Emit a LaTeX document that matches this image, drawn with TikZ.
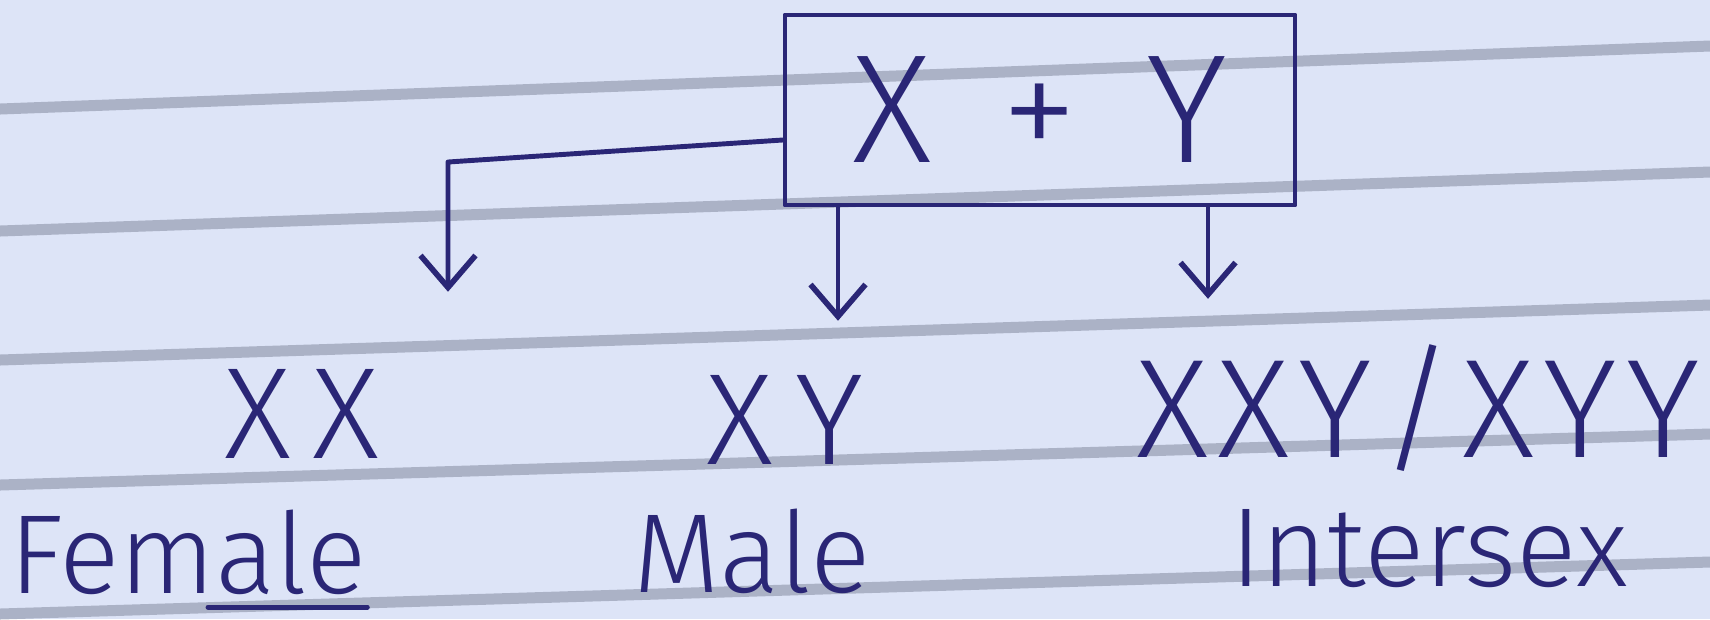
\documentclass[tikz,border=0pt]{standalone}
\usepackage{fontspec}
\usepackage{tikz}
\usetikzlibrary{arrows.meta}
\usepackage{xcolor}
\newfontfamily\handfont{Fira Sans Light}
\definecolor{paper}{RGB}{221,228,247}
\definecolor{inkblue}{RGB}{42,38,118}
\definecolor{ruleline}{RGB}{150,158,178}
\tikzset{
    pen/.style={draw=inkblue, line width=1.4pt, line cap=round, line join=round},
    inktext/.style={text=inkblue, font=\handfont\fontsize{37}{40}\selectfont, inner sep=0pt},
    wordtext/.style={text=inkblue, font=\handfont\fontsize{32}{38}\selectfont, inner sep=0pt},
    crossbox/.style={pen, minimum width=51mm, minimum height=19mm, text=inkblue,
        font=\handfont\fontsize{44}{48}\selectfont},
    link/.style={pen, -{Straight Barb[length=3.2mm, width=5.5mm, line width=1.6pt]}},
    ruled/.style={draw=ruleline, line width=1.1mm, opacity=0.7}
}
\newcommand{\gap}{\kern2.5pt}

\begin{document}
\begin{tikzpicture}[x=0.1mm, y=-0.1mm]
    \fill[paper] (0,0) rectangle (1710,619);
    \useasboundingbox (0,0) rectangle (1710,619);
    \draw[ruled] (0,109) -- (1710,46);
    \draw[ruled] (0,231) -- (1710,172);
    \draw[ruled] (0,360) -- (1710,305);
    \draw[ruled] (0,485) -- (1710,434);
    \draw[ruled] (0,614) -- (1710,562);

    \node[crossbox] (box) at (1040,110) {X \,+\, Y};
    \node[inktext] (xx) at (302,414) {X\,X};
    \node[inktext] (xy) at (785,420) {X\,Y};
    \node[inktext, font=\handfont\fontsize{40}{44}\selectfont] (trio) at (1418,408)
        {X\gap X\gap Y\gap/\gap X\gap Y\gap Y};
    \node[wordtext] (female) at (188,552) {Female};
    \node[wordtext] (male) at (752,551) {Male};
    \node[wordtext] (intersex) at (1429,549) {Intersex};
    \coordinate (bend) at (448,162);

    \draw[link, shorten >=7.7mm] ([yshift=-3mm]box.west) -- (bend) -- (bend |- xx.north);
    \draw[link, shorten >=5.4mm] ([xshift=5.3mm]xy.north |- box.south) -- ([xshift=5.3mm]xy.north);
    \draw[link, shorten >=4.5mm] ([xshift=-21mm]trio.north |- box.south) -- ([xshift=-21mm]trio.north);
    \draw[pen] ([xshift=2mm,yshift=-1.2mm]female.south) -- ([yshift=-1.2mm]female.south east);
\end{tikzpicture}
\end{document}
